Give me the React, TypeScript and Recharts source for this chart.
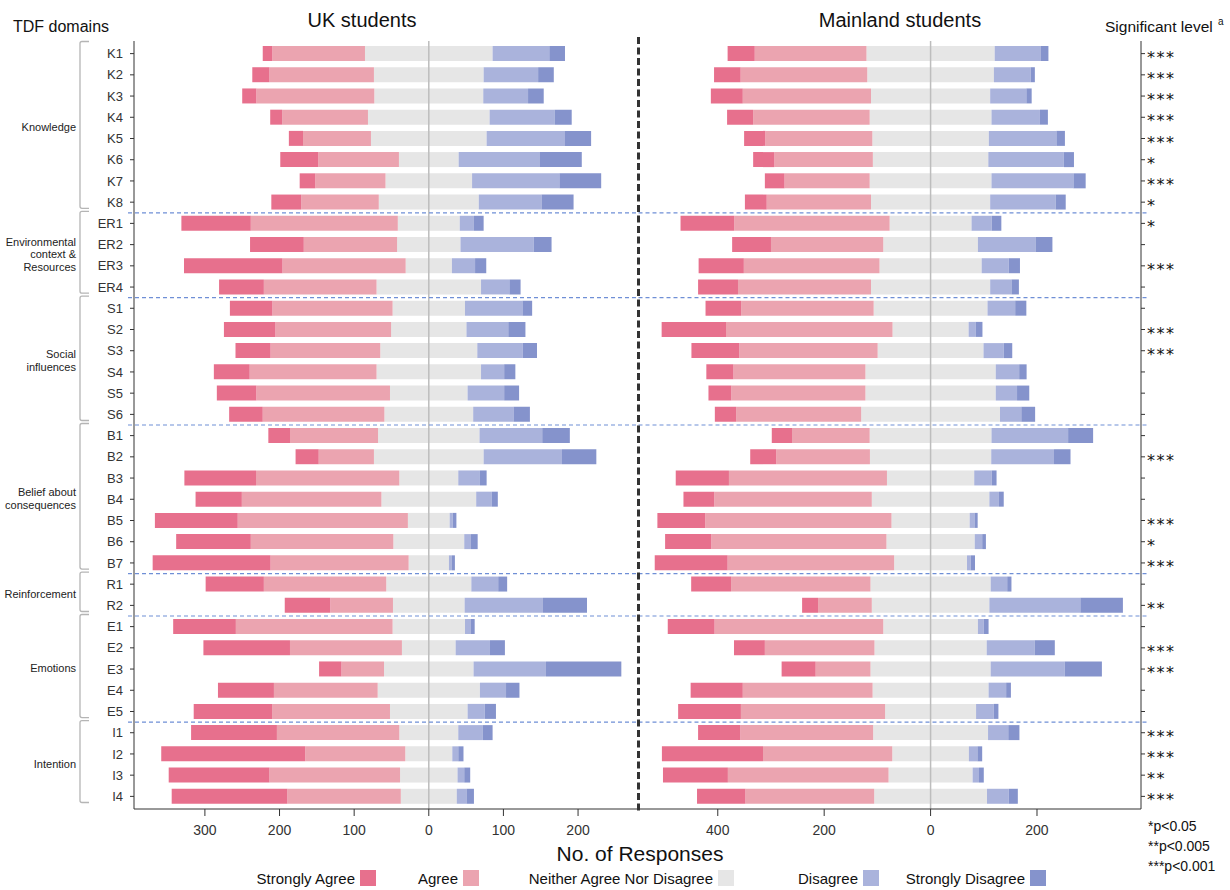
import React from 'react';
import { BarChart, Bar, XAxis, YAxis, ReferenceLine, ReferenceArea } from 'recharts';

// ---------- data ----------
const items = ['K1','K2','K3','K4','K5','K6','K7','K8','ER1','ER2','ER3','ER4','S1','S2','S3','S4','S5','S6','B1','B2','B3','B4','B5','B6','B7','R1','R2','E1','E2','E3','E4','E5','I1','I2','I3','I4'];

const domains = [
  { lines: ['Knowledge'], first: 'K1', last: 'K8' },
  { lines: ['Environmental', 'context &', 'Resources'], first: 'ER1', last: 'ER4' },
  { lines: ['Social', 'influences'], first: 'S1', last: 'S6' },
  { lines: ['Belief about', 'consequences'], first: 'B1', last: 'B7' },
  { lines: ['Reinforcement'], first: 'R1', last: 'R2' },
  { lines: ['Emotions'], first: 'E1', last: 'E5' },
  { lines: ['Intention'], first: 'I1', last: 'I4' },
];

const significance = ['***','***','***','***','***','*','***','*','*','','***','','','***','***','','','','','***','','','***','*','***','','**','','***','***','','','***','***','**','***'];

const ukStronglyAgree = [13,23,19,16,19,51,21,40, 93,72,132,60, 57,69,47,48,53,45, 29,31,96,62,111,100,158, 78,61, 84,116,30,75,105, 115,193,135,155];
const ukAgree = [124,140,158,115,91,108,94,104, 197,125,165,151, 161,155,147,170,179,163, 118,74,192,187,228,191,185, 164,84, 210,150,57,139,158, 164,134,175,152];
const ukNeutral = [171,147,146,163,155,80,116,134, 83,85,62,140, 97,101,130,140,104,119, 136,147,79,127,56,95,54, 114,96, 97,72,120,137,104, 79,63,77,75];
const ukDisagree = [76,73,60,87,105,109,117,84, 19,98,31,38, 77,56,61,31,49,54, 84,105,29,21,4,9,4, 36,105, 8,46,97,35,23, 33,8,9,13];
const ukStronglyDisagree = [21,21,21,23,35,56,56,43, 13,24,15,15, 13,23,19,15,20,22, 37,46,9,8,5,9,4, 12,59, 5,20,101,18,15, 13,7,8,10];

const mlStronglyAgree = [51,50,60,49,40,40,37,41, 101,73,85,75, 67,121,90,51,43,40, 38,49,100,58,90,87,137, 75,30, 88,58,64,98,118, 79,190,122,91];
const mlAgree = [210,238,241,219,201,185,160,196, 292,211,255,250, 249,313,260,248,252,235, 146,176,297,296,350,329,313, 262,101, 317,206,103,244,271, 250,243,302,242];
const mlNeutral = [241,238,224,229,219,217,229,224, 154,178,192,224, 214,143,199,245,245,261, 229,228,164,221,147,166,137, 226,221, 178,211,226,218,171, 216,144,158,212];
const mlDisagree = [87,69,68,91,127,142,154,123, 38,109,51,40, 52,13,38,44,40,40, 144,118,33,18,9,14,7, 31,171, 11,90,139,33,33, 38,16,12,41];
const mlStronglyDisagree = [14,8,10,15,16,19,23,19, 18,31,21,14, 21,13,16,14,23,26, 47,31,9,9,6,7,8, 8,80, 9,38,70,9,9, 21,9,9,17];

const ukTicks = [-300, -200, -100, 0, 100, 200];
const mlTicks = [-400, -200, 0, 200];
const ukDomain = [-395, 281];
const mlDomain = [-549, 395.5];

const legendNames = ['Strongly Agree', 'Agree', 'Neither Agree Nor Disagree', 'Disagree', 'Strongly Disagree'];
const legendColors = ['#E7708D', '#EBA4B0', '#E6E6E6', '#AAB3DC', '#8593CC'];
const pNotes = ['*p<0.05', '**p<0.005', '***p<0.001'];

// ---------- build tables ----------
function buildRows(sa: number[], a: number[], n: number[], d: number[], sd: number[]) {
  return items.map((name, i) => ({
    name,
    nl: -n[i] / 2,
    a: -a[i],
    sa: -sa[i],
    nr: n[i] / 2,
    d: d[i],
    sd: sd[i],
  }));
}
const ukRows = buildRows(ukStronglyAgree, ukAgree, ukNeutral, ukDisagree, ukStronglyDisagree);
const mlRows = buildRows(mlStronglyAgree, mlAgree, mlNeutral, mlDisagree, mlStronglyDisagree);
const sigByName: Record<string, string> = {};
items.forEach((n, i) => { sigByName[n] = significance[i]; });

const seriesDefs = [
  { key: 'nl', color: legendColors[2] },
  { key: 'a', color: legendColors[1] },
  { key: 'sa', color: legendColors[0] },
  { key: 'nr', color: legendColors[2] },
  { key: 'd', color: legendColors[3] },
  { key: 'sd', color: legendColors[4] },
];

const FONT = '"Liberation Sans", Arial, Helvetica, sans-serif';
const AXIS = '#333';
const SEP = '#6F8FD6';
const absFmt = (v: number) => String(Math.abs(v));

const renderBars = () =>
  seriesDefs.map((s) => (
    <Bar key={s.key} dataKey={s.key} stackId="s" fill={s.color} isAnimationActive={false} />
  ));

const sepShape = (extL: number, extR: number) => (p: any) => (
  <line
    x1={Math.min(p.x1, p.x2) - extL}
    x2={Math.max(p.x1, p.x2) + extR}
    y1={p.y1}
    y2={p.y2}
    stroke={SEP}
    strokeWidth={1.2}
    strokeDasharray="4 3"
  />
);

const bracketShape = (g: { lines: string[] }) => (p: any) => {
  const x0 = p.x - 54;
  const top = p.y - 1.5;
  const bot = p.y + p.height - 4.5;
  const mid = p.y + p.height / 2 - 1;
  const lh = 12.5;
  const n = g.lines.length;
  return (
    <g>
      <path
        d={`M${x0 + 9},${top} L${x0 + 2},${top} Q${x0},${top} ${x0},${top + 2} L${x0},${bot - 2} Q${x0},${bot} ${x0 + 2},${bot} L${x0 + 9},${bot}`}
        fill="none"
        stroke="#b5b5b5"
        strokeWidth={1.3}
      />
      <text textAnchor="end" fontSize={11} fill="#222">
        {g.lines.map((l, i) => (
          <tspan key={i} x={x0 - 4} y={mid + (i - (n - 1) / 2) * lh + 4}>{l}</tspan>
        ))}
      </text>
    </g>
  );
};

const SigTick = (p: any) => {
  const s = sigByName[p.payload.value] || '';
  if (!s) return <g />;
  return (
    <text
      x={p.x + 1}
      y={p.y + 9}
      fontSize={16}
      letterSpacing={1.5}
      fill="#111"
      fontFamily='"DejaVu Sans", sans-serif'
    >
      {s}
    </text>
  );
};

const dashShape = (p: any) => (
  <line
    x1={p.x1}
    x2={p.x2}
    y1={Math.min(p.y1, p.y2) - 4}
    y2={Math.max(p.y1, p.y2) + 3}
    stroke="#333"
    strokeWidth={3}
    strokeDasharray="7 3.5"
  />
);

function LeftChart() {
  return (
    <BarChart
      width={640}
      height={890}
      data={ukRows}
      layout="vertical"
      stackOffset="sign"
      barSize={15}
      margin={{ top: 41, right: 1.5, bottom: 51, left: 0 }}
    >
      <XAxis
        type="number"
        domain={ukDomain}
        ticks={ukTicks}
        allowDataOverflow
        interval={0}
        tickFormatter={absFmt}
        tickSize={7}
        tickMargin={9}
        height={30}
        stroke={AXIS}
        tick={{ fontSize: 14, fill: '#333' }}
      />
      <XAxis
        xAxisId="top"
        orientation="top"
        type="number"
        domain={ukDomain}
        ticks={ukTicks}
        allowDataOverflow
        interval={0}
        tickSize={7}
        height={0}
        tick={false}
        stroke={AXIS}
      />
      <YAxis
        type="category"
        dataKey="name"
        width={134}
        interval={0}
        tickSize={4}
        tickMargin={7}
        padding={{ top: 2, bottom: 2 }}
        stroke={AXIS}
        tick={{ fontSize: 13, fill: '#333' }}
      />
      {renderBars()}
      <ReferenceLine x={0} stroke="#bdbdbd" strokeWidth={1.5} />
      {domains.slice(0, -1).map((g) => (
        <ReferenceLine key={'s' + g.last} y={g.last} position="end" shape={sepShape(6, 0)} />
      ))}
      {domains.map((g) => (
        <ReferenceArea key={'b' + g.first} y1={g.first} y2={g.last} shape={bracketShape(g)} />
      ))}
    </BarChart>
  );
}

function RightChart() {
  return (
    <BarChart
      width={600}
      height={890}
      data={mlRows}
      layout="vertical"
      stackOffset="sign"
      barSize={15}
      margin={{ top: 41, right: 0, bottom: 51, left: 8.5 }}
    >
      <XAxis
        type="number"
        domain={mlDomain}
        ticks={mlTicks}
        allowDataOverflow
        interval={0}
        tickFormatter={absFmt}
        tickSize={7}
        tickMargin={9}
        height={30}
        stroke={AXIS}
        tick={{ fontSize: 14, fill: '#333' }}
      />
      <XAxis
        xAxisId="top"
        orientation="top"
        type="number"
        domain={mlDomain}
        ticks={mlTicks}
        allowDataOverflow
        interval={0}
        tickSize={7}
        height={0}
        tick={false}
        stroke={AXIS}
      />
      <YAxis
        type="category"
        dataKey="name"
        orientation="right"
        width={89}
        interval={0}
        tickSize={4}
        tickMargin={1}
        padding={{ top: 2, bottom: 2 }}
        stroke={AXIS}
        tick={SigTick}
      />
      {renderBars()}
      <ReferenceLine x={0} stroke="#bdbdbd" strokeWidth={1.5} />
      {domains.slice(0, -1).map((g) => (
        <ReferenceLine key={'s' + g.last} y={g.last} position="end" shape={sepShape(0, 8)} />
      ))}
      <ReferenceLine x={mlDomain[0]} shape={dashShape} />
    </BarChart>
  );
}

function Overlay() {
  const legendRight = [355, 458, 713, 858, 1025];
  return (
    <svg width={1230} height={890} style={{ position: 'absolute', left: 0, top: 0 }}>
      <text x={13} y={32} fontSize={16} fill="#111">TDF domains</text>
      <text x={362} y={27} fontSize={20} fill="#111" textAnchor="middle">UK students</text>
      <text x={900} y={27} fontSize={20} fill="#111" textAnchor="middle">Mainland students</text>
      <text x={1105} y={32} fontSize={15.5} fill="#111">Significant level</text>
      <text x={1218} y={25} fontSize={10} fill="#111">a</text>
      <text x={640} y={861} fontSize={21} fill="#111" textAnchor="middle">No. of Responses</text>
      {pNotes.map((t, i) => (
        <text key={t} x={1148} y={831 + i * 20} fontSize={14} fill="#111">{t}</text>
      ))}
      {legendNames.map((n, i) => (
        <g key={n}>
          <text x={legendRight[i]} y={884} fontSize={15} fill="#111" textAnchor="end">{n}</text>
          <rect x={legendRight[i] + 5} y={870} width={16} height={16} fill={legendColors[i]} />
        </g>
      ))}
    </svg>
  );
}

export default function App() {
  return (
    <div style={{ position: 'absolute', left: 0, top: 0, width: 1230, height: 890, background: '#fff', fontFamily: FONT }}>
      <Overlay />
      <div style={{ position: 'absolute', left: 0, top: 0 }}>
        <LeftChart />
      </div>
      <div style={{ position: 'absolute', left: 630, top: 0 }}>
        <RightChart />
      </div>
    </div>
  );
}
